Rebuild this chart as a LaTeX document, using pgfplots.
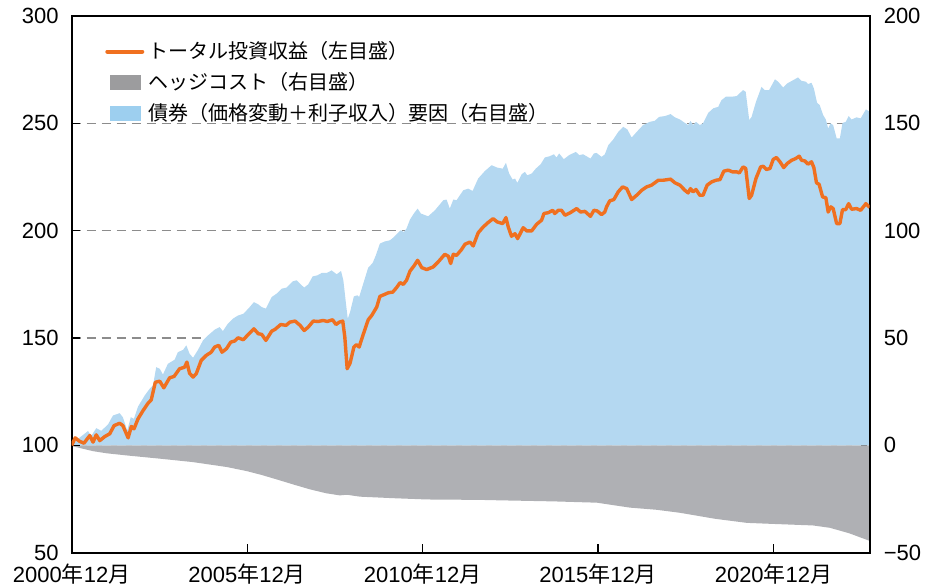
\documentclass[border=0pt]{standalone}
\usepackage{pgfplots}
\pgfplotsset{compat=1.18}
\usepackage{fontspec}
\setmainfont{Liberation Sans}
\newfontfamily\jp{Noto Sans CJK JP}
\definecolor{bondblue}{RGB}{180,216,241}
\definecolor{bondleg}{RGB}{157,207,239}
\definecolor{hedgegray}{RGB}{175,176,180}
\definecolor{hedgeleg}{RGB}{156,156,158}
\definecolor{totorange}{RGB}{240,112,32}
\definecolor{gridgray}{RGB}{140,140,140}
\begin{document}
\begin{tikzpicture}
\path[use as bounding box] (-35.85pt,-16.65pt) rectangle (432.15pt,276.35pt);
\pgfplotsset{
  common/.style={scale only axis, width=399pt, height=268.35pt,
    xmin=0, xmax=272.9, at={(0pt,0pt)}, anchor=south west,
    tick align=inside, major tick length=4.3pt,
    tick style={black, line width=0.6pt},
    ticklabel style={font=\fontsize{11}{13}\selectfont},
    axis line style={line width=1pt}},
}
% right axis: areas
\begin{axis}[common,
  ymin=-50, ymax=200,
  axis x line=none, axis y line*=right,
  ytick={-50,0,50,100,150,200},
  yticklabels={−50,0,50,100,150,200},
  yticklabel style={xshift=3.5pt},
  ymajorgrids,
  grid style={gridgray, line width=0.7pt, dash pattern=on 4.5pt off 3pt},
]
\addplot[fill=bondblue, draw=none] coordinates {
(0,0) (0,0) (2.7,3.6) (5.6,6.7) (6.7,4.4) (8.4,8.0) (10.1,6.8) (12.4,9.7) (14.1,13.9)
(16.4,15.0) (17.5,13.1) (19.0,6.9) (20.2,13.1) (21.3,12.4) (22.7,18.1) (25.0,23.3)
(26.7,26.4) (27.8,27.9) (28.9,36.4) (30.1,35.7) (31.2,33.0) (32.9,38.0) (35.2,39.9)
(36.3,43.4) (38.1,44.5) (39.2,46.6) (40.3,42.7) (41.5,40.8) (43.2,44.5) (44.9,48.9)
(46.6,51.2) (48.9,53.9) (50.6,55.1) (51.7,53.2) (53.4,56.7) (55.2,59.1) (56.9,60.5)
(58.7,61.3) (60.4,63.7) (62.3,66.7) (63.8,65.7) (65.0,64.4) (66.4,63.7) (68.4,69.1)
(70.1,70.7) (71.8,73.0) (73.5,73.5) (75.6,76.4) (76.9,76.9) (78.1,75.3) (79.5,73.5)
(80.9,75.0) (82.4,78.7) (84.0,79.2) (85.5,80.3) (87.2,80.3) (88.9,81.5) (90.6,79.7)
(92.1,81.2) (92.9,76.9) (93.8,66.0) (94.4,59.0) (95.2,62.1) (96.5,69.4) (97.7,69.9)
(98.3,69.1) (99.7,75.3) (101.4,82.8) (102.9,84.9) (104.0,88.5) (105.4,94.0) (107.1,95.0)
(108.8,95.5) (110.0,96.8) (111.3,98.6) (112.5,100.2) (113.6,99.4) (114.5,101.0)
(115.7,105.2) (117.0,108.0) (118.3,110.3) (119.4,108.0) (121.9,106.7) (124.2,109.5)
(127.1,114.2) (128.2,114.5) (129.3,110.3) (130.5,114.5) (131.6,114.2) (133.9,118.8)
(135.6,119.6) (137.1,118.5) (139.0,124.3) (141.3,127.8) (143.6,130.5) (145.5,129.4)
(147.4,128.9) (148.5,131.6) (149.6,126.6) (150.8,123.8) (151.6,124.3) (152.4,122.3)
(153.9,126.3) (155.0,127.4) (155.8,125.8) (157.3,126.6) (158.7,128.9) (160.4,131.0)
(161.8,134.1) (163.5,134.7) (164.9,135.6) (165.8,134.1) (166.7,136.0) (168.3,133.3)
(170.1,135.2) (172.4,136.7) (173.6,135.2) (174.9,135.6) (177.4,133.6) (178.6,136.0)
(179.5,136.2) (181.2,134.4) (182.3,135.5) (183.5,139.8) (185.2,142.5) (186.9,146.0)
(188.6,148.4) (190.0,147.2) (191.5,143.4) (193.2,146.0) (195.4,149.2) (197.7,150.7)
(199.4,151.2) (200.9,153.0) (202.9,153.4) (204.8,154.3) (206.3,152.8) (208.0,151.8)
(209.7,150.2) (210.8,149.2) (211.6,151.1) (212.5,149.2) (213.5,150.7) (214.8,149.2)
(215.9,150.0) (217.7,154.9) (219.4,157.0) (221.1,157.7) (222.2,160.8) (223.7,162.4)
(225.7,162.4) (227.4,162.7) (229.6,165.5) (230.5,164.7) (231.7,151.5) (232.5,153.0)
(234.0,160.0) (235.9,167.0) (237.0,165.5) (238.5,165.5) (240.5,170.5) (241.6,169.4)
(243.3,166.7) (244.7,168.6) (246.7,170.1) (248.4,171.4) (249.6,169.8) (251.1,169.4)
(251.8,168.3) (253.0,168.9) (253.8,166.3) (254.9,159.6) (255.8,158.5) (257.0,153.8)
(257.9,151.8) (258.7,147.6) (259.5,150.0) (260.4,149.2) (261.6,143.0) (262.7,143.0)
(263.6,150.2) (264.7,150.7) (265.7,153.4) (266.7,151.8) (268.4,152.8) (269.8,152.3)
(271.6,156.5) (272.9,155.4) (272.9,0)
};
\addplot[fill=hedgegray, draw=none] coordinates {
(0,0) (0,-0.3) (3,-1.3) (7.3,-2.7) (12,-3.7) (18.9,-4.7) (30.2,-6.2) (41.5,-7.8)
(53.1,-10.1) (59.9,-12.0) (65,-13.8) (70.2,-15.9) (76,-18.3) (81.5,-20.5) (87,-22.3)
(91.7,-23.3) (94.1,-23.0) (98.6,-23.9) (109.9,-24.6) (121.5,-25.2) (139.6,-25.4)
(146.4,-25.6) (165,-26.1) (179.6,-26.7) (185,-27.8) (190.9,-29.0) (200,-30.0) (208,-31.4)
(220,-34.2) (230.9,-36.1) (240,-36.6) (253.5,-37.3) (259.3,-38.4) (266,-41.0)
(272.9,-44.5) (272.9,0)
};
\addplot[draw={rgb,255:red,196;green,206;blue,214}, line width=0.5pt, dash pattern=on 4.5pt off 3pt] coordinates {(0,0) (272.9,0)};
\end{axis}
% left axis: total return line
\begin{axis}[common,
  ymin=50, ymax=300,
  ytick={50,100,150,200,250,300},
  ytick pos=left, xtick pos=bottom,
  xtick={0,60,120,180,240},
  xticklabels={2000{\jp 年}12{\jp 月},2005{\jp 年}12{\jp 月},2010{\jp 年}12{\jp 月},2015{\jp 年}12{\jp 月},2020{\jp 年}12{\jp 月}},
  /pgf/number format/assume math mode=true,
  yticklabel style={xshift=-3pt},
  xticklabel style={yshift=-2pt},
  legend cell align=left,
  legend style={at={(0.0416,0.955)}, anchor=north west, draw=none, fill=none,
    inner sep=0pt, font=\jp\fontsize{10}{12}\selectfont,
    /tikz/row sep=4.5pt, /tikz/column sep=1.5pt,
    nodes={inner sep=0.5pt, text height=8.5pt, text depth=1.5pt}},
]
\addplot[totorange, line width=1.7pt, line join=round,
  legend image code/.code={\draw[totorange, line width=2pt, line cap=round] (0pt,0pt) -- (17.5pt,0pt);}]
coordinates {
(0,100) (1.2,103.5) (2.7,101.9) (4.2,101.0) (6.2,104.6) (7.3,101.5) (8.4,104.9) (9.6,102.2)
(11.3,104.1) (13.0,105.4) (14.5,109.2) (16.4,110.3) (17.5,109.2) (19.3,103.5) (20.4,108.8)
(21.3,107.7) (22.7,112.4) (24.4,116.2) (26.1,119.6) (27.2,121.2) (28.6,129.4) (30.1,129.9)
(31.5,126.8) (33.5,131.5) (35.0,132.1) (36.9,135.7) (38.6,136.4) (39.4,138.8) (40.3,133.6)
(41.5,131.8) (42.6,133.4) (44.3,139.6) (46.0,141.9) (47.7,143.4) (48.9,145.8) (50.3,146.6)
(51.4,143.4) (52.9,145.0) (54.4,148.1) (55.7,148.6) (56.9,150.1) (58.7,149.2) (60.4,151.7)
(62.3,154.3) (63.8,152.0) (65.0,151.7) (66.4,148.9) (68.4,153.2) (69.5,154.0) (71.5,156.3)
(73.3,155.9) (74.6,157.4) (76.4,157.9) (78.1,155.9) (79.5,153.5) (80.9,155.1) (82.6,157.9)
(84.3,157.7) (86.0,158.2) (87.4,157.7) (89.2,158.5) (90.4,156.3) (91.5,157.4) (92.7,157.9)
(93.4,150.4) (94.2,135.7) (95.2,138.3) (96.5,145.8) (97.4,146.9) (98.3,145.8) (99.7,151.7)
(101.4,158.5) (102.6,160.5) (104.3,164.4) (105.4,169.4) (106.8,170.2) (108.3,171.1)
(109.8,171.4) (111.1,173.5) (112.3,175.8) (113.4,175.0) (114.5,176.9) (115.7,181.2)
(117.0,183.5) (118.3,186.2) (119.7,182.8) (121.4,181.9) (123.6,183.1) (125.3,185.4)
(127.6,189.0) (128.8,188.1) (129.6,184.7) (130.5,189.0) (131.6,188.5) (133.3,191.2)
(134.5,193.7) (136.2,194.7) (137.3,192.9) (139.0,199.0) (140.7,201.7) (142.4,203.8)
(144.1,205.6) (145.5,204.1) (147.4,203.3) (148.5,206.1) (149.3,201.7) (150.4,197.4)
(151.6,198.6) (152.5,196.3) (154.4,201.4) (155.6,199.9) (157.3,199.9) (159.0,203.0)
(160.7,204.9) (161.5,208.0) (163.0,208.4) (164.5,209.5) (165.2,208.0) (166.4,209.5)
(167.5,209.5) (168.7,207.2) (170.4,208.3) (172.7,210.3) (174.0,208.7) (175.5,209.0)
(177.4,206.7) (178.6,209.5) (179.7,209.2) (181.2,207.5) (182.3,208.7) (182.9,211.1)
(184.0,213.9) (185.4,214.5) (186.9,218.1) (188.4,220.4) (189.8,219.6) (191.5,214.5)
(193.2,216.5) (194.9,218.8) (196.6,220.4) (198.3,221.2) (199.4,222.3) (200.6,223.5)
(202.3,223.5) (204.8,224.0) (206.3,222.3) (208.0,221.2) (209.7,218.8) (210.8,217.6)
(211.6,219.6) (212.5,218.1) (213.5,219.2) (214.8,216.5) (215.9,216.5) (217.3,221.2)
(218.8,222.7) (220.3,223.5) (221.7,223.8) (223.0,227.7) (224.5,228.2) (226.0,227.4)
(227.4,227.4) (228.3,226.9) (229.6,229.7) (230.5,229.0) (231.7,215.0) (232.5,216.5)
(234.0,224.3) (235.6,229.7) (236.5,230.0) (237.6,228.5) (238.8,229.0) (239.9,233.2)
(241.0,234.1) (242.2,232.1) (243.5,229.4) (244.7,231.3) (246.2,232.8) (247.6,233.6)
(248.8,234.7) (249.6,232.8) (250.7,232.5) (251.8,231.0) (253.0,232.1) (253.8,229.4)
(254.7,222.3) (255.6,221.6) (256.8,215.7) (257.9,215.4) (258.7,208.7) (259.6,211.1)
(260.4,210.3) (261.6,203.3) (262.7,203.3) (263.6,209.8) (264.7,209.8) (265.7,212.6)
(266.7,210.0) (268.4,210.3) (269.8,209.5) (271.6,212.6) (272.9,210.8)
};
\addlegendentry{トータル投資収益（左目盛）}
\addlegendimage{legend image code/.code={\fill[hedgeleg] (1.5pt,-3.5pt) rectangle (16.5pt,3.5pt);}}
\addlegendentry{ヘッジコスト（右目盛）}
\addlegendimage{legend image code/.code={\fill[bondleg] (1.5pt,-3.5pt) rectangle (16.5pt,3.5pt);}}
\addlegendentry{債券（価格変動＋利子収入）要因（右目盛）}
\end{axis}
\end{tikzpicture}
\end{document}
